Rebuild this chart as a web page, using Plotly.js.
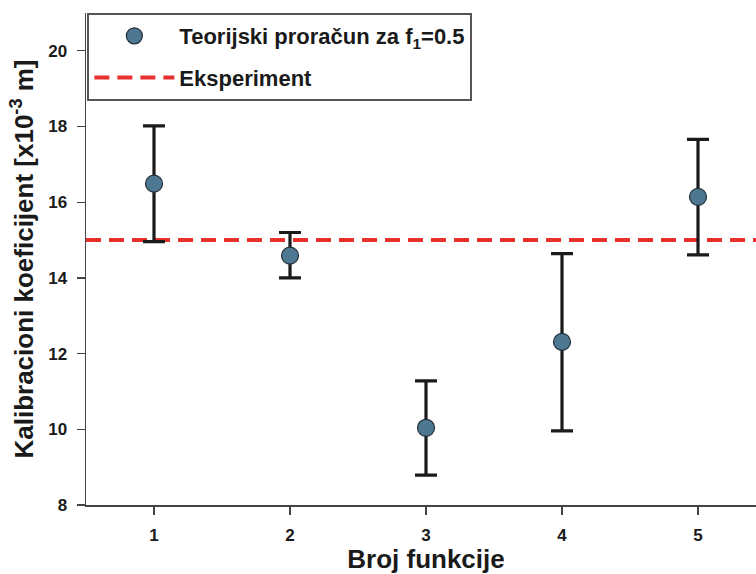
<!DOCTYPE html>
<html>
<head>
<meta charset="utf-8">
<script src="https://cdn.plot.ly/plotly-3.0.1.min.js"></script>
<style>
html, body { margin:0; padding:0; width:756px; height:574px; overflow:hidden; background:#fff; }
#chart { width:800px; height:574px; }
</style>
</head>
<body>
<div id="chart"></div>
<script>
// Data
const funcNumbers = [1, 2, 3, 4, 5];
const theoryValues = [16.49, 14.59, 10.04, 12.31, 16.14];
const errorPlus  = [1.53, 0.61, 1.24, 2.33, 1.52];
const errorMinus = [1.53, 0.59, 1.25, 2.35, 1.53];
const experimentValue = 15.0;
const xRange = [0.5, 5.5];
const yRange = [8, 21];
const yTicks = [8, 10, 12, 14, 16, 18, 20];

const FONT = "Arial, 'Liberation Sans', Helvetica, sans-serif";

const experimentTrace = {
  x: xRange,
  y: xRange.map(() => experimentValue),
  mode: 'lines',
  name: 'Eksperiment',
  legendgroup: 'exp',
  line: { color: '#e8312f', width: 4, dash: '15px,8px' },
  legendrank: 2,
  hoverinfo: 'skip'
};

const theoryTrace = {
  x: funcNumbers,
  y: theoryValues,
  mode: 'markers',
  name: 'Teorijski proračun za f<sub>1</sub>=0.5',
  legendgroup: 'theory',
  marker: { size: 17, color: '#4e7892', line: { color: '#1f2d36', width: 1.2 } },
  error_y: {
    type: 'data', symmetric: false,
    array: errorPlus, arrayminus: errorMinus,
    color: '#1a1a1a', thickness: 3.2, width: 11
  },
  legendrank: 1
};

const layout = {
  width: 800, height: 574,
  margin: { l: 86, r: 34, t: 13, b: 69 },
  paper_bgcolor: '#ffffff',
  plot_bgcolor: '#ffffff',
  font: { family: FONT, color: '#1a1a1a' },
  showlegend: true,
  legend: {
    x: 0.002, y: 1, xanchor: 'left', yanchor: 'top',
    bgcolor: '#ffffff', bordercolor: '#555555', borderwidth: 2,
    font: { family: FONT, size: 22, weight: 'bold', color: '#1a1a1a' },
    itemwidth: 80, tracegroupgap: 10, traceorder: 'grouped'
  },
  xaxis: {
    range: xRange, tickvals: funcNumbers, ticktext: funcNumbers.map(String),
    showgrid: false, zeroline: false,
    showline: true, linecolor: '#444', linewidth: 1.5,
    ticks: 'outside', ticklen: 8, tickwidth: 1.2, tickcolor: '#444',
    ticklabelstandoff: 6,
    tickfont: { family: FONT, size: 17, weight: 'bold', color: '#1a1a1a' },
    title: { text: 'Broj funkcije', standoff: 6,
             font: { family: FONT, size: 26, weight: 'bold', color: '#1a1a1a' } }
  },
  yaxis: {
    range: yRange, tickvals: yTicks,
    showgrid: false, zeroline: false,
    showline: true, linecolor: '#444', linewidth: 1.5,
    ticks: 'outside', ticklen: 8, tickwidth: 1.2, tickcolor: '#444',
    ticklabelstandoff: 6,
    tickfont: { family: FONT, size: 17, weight: 'bold', color: '#1a1a1a' },
    title: { text: 'Kalibracioni koeficijent [x10<sup>-3</sup> m]', standoff: 7,
             font: { family: FONT, size: 26, weight: 'bold', color: '#1a1a1a' } }
  }
};

Plotly.newPlot('chart', [experimentTrace, theoryTrace], layout, { displayModeBar: false, staticPlot: true });
</script>
</body>
</html>
